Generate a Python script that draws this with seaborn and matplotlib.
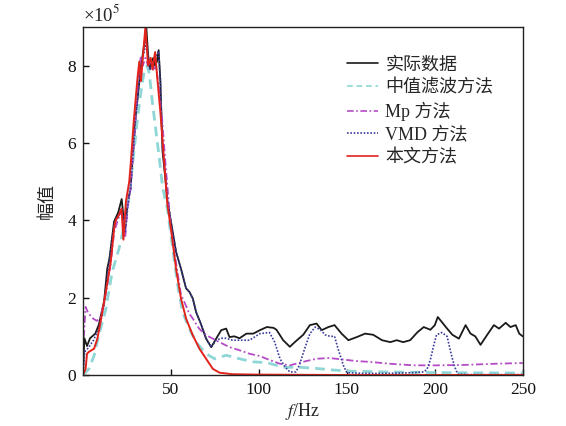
import matplotlib
matplotlib.use("Agg")
import matplotlib.pyplot as plt
import seaborn as sns
import pandas as pd

# ---------------- data (amplitude in units of 1e5) ----------------
labels = ["实际数据", "中值滤波方法", "Mp 方法", "VMD 方法", "本文方法"]

f_actual = [0, 0.8, 2.3, 4, 7, 9, 12, 13.8, 15, 17.7, 20, 22, 23, 24, 25.5, 27, 30, 33, 35, 36,
            37, 38, 39, 40, 41, 42, 43, 44, 45.2, 47, 48, 50, 52.9, 55.7, 58.6, 60.5, 62.4, 64.3, 67.2, 70,
            72.9, 75.7, 78.6, 81.4, 83.3, 86, 89, 92.9, 96.8, 100.6, 104.5, 108.3, 110, 113.8, 117.6, 120.4, 125.2, 129, 132.8, 135.7,
            139.5, 143, 147, 150.9, 155.6, 160.4, 165, 170, 174.7, 178.4, 182, 186, 190, 193.7, 197.5, 200, 201.7, 204, 207, 210,
            213.7, 217.5, 220.3, 223, 226, 229.8, 233.6, 236.5, 240.3, 243, 246, 248, 250]
v_actual = [0, 0.95, 0.75, 0.95, 1.07, 1.3, 1.9, 2.75, 3.0, 3.97, 4.2, 4.55, 4.1, 3.8, 4.5, 4.8, 6.7, 8.0, 8.6, 9.0,
            8.3, 7.9, 8.1, 8.2, 8.0, 8.1, 8.4, 7.6, 5.8, 5.0, 4.5, 3.97, 3.19, 2.75, 2.24, 2.15, 1.98, 1.63, 1.3, 0.94,
            0.72, 0.94, 1.16, 1.2, 0.98, 1.0, 0.95, 1.07, 1.07, 1.16, 1.24, 1.22, 1.17, 0.9, 0.73, 0.85, 1.04, 1.29, 1.33, 1.16,
            1.24, 1.29, 1.07, 0.9, 0.98, 1.07, 1.04, 0.9, 0.85, 0.9, 0.85, 0.9, 1.1, 1.24, 1.17, 1.29, 1.5, 1.37, 1.2, 1.04,
            0.94, 1.29, 1.07, 1.0, 0.78, 1.04, 1.29, 1.2, 1.35, 1.24, 1.29, 1.07, 1.0]

f_median = [0, 3.4, 6.3, 9, 13, 16.6, 20.5, 24.4, 26.3, 29, 31, 33, 34.8, 36.5, 37.7, 39.6, 41.5, 43.4, 45.3, 48,
            51, 53.8, 56.6, 60.4, 64.3, 70, 74.8, 81.4, 89, 96.8, 104.5, 114, 123, 132.8, 142, 152, 171, 207, 250]
v_median = [0, 0.16, 0.5, 1.03, 1.7, 2.67, 3.27, 4.05, 4.66, 5.78, 6.64, 7.33, 7.85, 8.0, 7.8, 7.0, 6.3, 5.6, 4.83, 4.3,
            3.27, 2.33, 1.63, 1.2, 0.85, 0.55, 0.42, 0.51, 0.42, 0.34, 0.32, 0.2, 0.2, 0.17, 0.13, 0.1, 0.08, 0.06, 0.05]

f_mp = [0, 0.5, 1.5, 3, 6, 8, 10, 13, 15.8, 17.7, 20.5, 22, 23, 24, 25.5, 27, 30, 32, 33, 34,
        35.5, 37, 38.6, 40, 41.5, 43, 45, 47, 50, 52.9, 55.7, 57.5, 60.4, 62.4, 66, 70, 73.8, 77.6, 83.3, 89,
        94.7, 100.5, 106, 112, 117.6, 125, 132.8, 140, 148, 155.6, 163, 174.7, 188, 201, 216.5, 233.6, 250]
v_mp = [1.0, 1.0, 1.76, 1.6, 1.45, 1.4, 1.5, 2.1, 2.9, 3.7, 4.1, 4.2, 3.9, 3.55, 4.4, 4.8, 6.7, 8.0, 8.24, 8.0,
        8.2, 8.0, 8.1, 7.9, 8.0, 7.5, 6.6, 5.4, 3.8, 2.9, 2.07, 1.9, 1.59, 1.46, 1.2, 1.03, 0.94, 0.85, 0.72, 0.64,
        0.55, 0.49, 0.39, 0.29, 0.25, 0.34, 0.42, 0.44, 0.4, 0.36, 0.34, 0.29, 0.25, 0.25, 0.26, 0.29, 0.31]

f_vmd = [0, 1, 3, 6, 9, 12, 14, 17.7, 20, 22, 23, 24, 25.5, 27, 30, 33, 35, 36, 37, 38,
         40, 42, 43, 44, 45.2, 47, 48, 50, 52.9, 55.7, 58.6, 60.5, 62.4, 64.3, 67.2, 70, 72.9, 75.7, 78.6, 81.4,
         85, 89, 94.7, 100.5, 106, 109, 112, 115, 117.6, 121, 123, 126, 129, 132, 135, 137.6, 140.4, 143, 145, 148,
         150, 160, 170, 180, 188, 193.7, 195.6, 197.5, 199.4, 201, 204, 207, 209, 211, 213, 220, 235, 250]
v_vmd = [0, 0.6, 0.7, 0.9, 1.2, 1.8, 2.6, 3.9, 4.1, 4.3, 4.0, 3.7, 4.4, 4.8, 6.7, 8.0, 8.4, 8.6, 8.2, 7.9,
         8.1, 8.3, 8.37, 7.6, 5.9, 5.1, 4.5, 3.97, 3.19, 2.75, 2.24, 2.15, 1.98, 1.63, 1.3, 0.94, 0.72, 0.9, 0.95, 0.95,
         0.9, 0.9, 0.9, 1.07, 1.1, 0.85, 0.42, 0.2, 0.08, 0.08, 0.25, 0.68, 1.07, 1.24, 1.17, 1.04, 1.0, 1.0, 0.68, 0.25,
         0.06, 0.04, 0.04, 0.05, 0.06, 0.08, 0.15, 0.4, 0.77, 1.04, 1.1, 1.0, 0.6, 0.25, 0.02, 0.01, 0.01, 0.01]

f_ours = [0, 1.5, 2.3, 3.4, 6.3, 8.2, 10, 13, 15.8, 17.7, 18.6, 20.5, 21.9, 23, 24.4, 26.3, 27.2, 29, 31, 32,
          33, 34, 35.5, 37, 38.5, 39.5, 41, 42, 44, 46, 48, 50, 52.9, 55.7, 58.6, 62.4, 66.2, 70, 73.8, 77.6,
          85, 100, 150, 200, 250]
v_ours = [0, 0.16, 0.55, 0.6, 0.68, 0.94, 1.37, 2.15, 2.93, 3.79, 4.0, 4.14, 4.3, 3.5, 4.48, 5.0, 5.5, 6.64, 7.68, 8.1,
          7.6, 8.2, 9.0, 8.0, 8.2, 7.9, 8.35, 7.8, 6.8, 5.6, 4.4, 3.79, 2.75, 1.98, 1.46, 1.03, 0.68, 0.42, 0.16, 0.06,
          0.02, 0.01, 0.0, 0.0, 0.0]

x_ticks = [50, 100, 150, 200, 250]
y_ticks = [0, 2, 4, 6, 8]

# ---------------- style ----------------
sns.set_style("white")
plt.rcParams["font.family"] = ["Liberation Serif", "Noto Sans CJK SC", "DejaVu Sans"]
plt.rcParams["mathtext.fontset"] = "stix"
plt.rcParams["axes.unicode_minus"] = False

fig = plt.figure(figsize=(5.66, 4.26), dpi=100)
ax = fig.add_axes([0.1466, 0.1197, 0.777, 0.817])

series = [
    (f_actual, v_actual, labels[0], dict(color="#1a1a1a", lw=1.3, ls="-")),
    (f_median, v_median, labels[1], dict(color="#8fd6d6", lw=2.0, dashes=(3.5, 2.2))),
    (f_mp, v_mp, labels[2], dict(color="#b54cc6", lw=1.3, dashes=(4, 1.5, 1, 1.5))),
    (f_vmd, v_vmd, labels[3], dict(color="#3c3c9c", lw=1.2, dashes=(1, 1))),
    (f_ours, v_ours, labels[4], dict(color="#e2231c", lw=1.4, ls="-")),
]
for fx, vy, lab, kw in series:
    assert len(fx) == len(vy), lab
    df = pd.DataFrame({"f": fx, "v": vy})
    sns.lineplot(data=df, x="f", y="v", ax=ax, label=lab, sort=False, estimator=None, **kw)

ax.set_xlim(0, 250)
ax.set_ylim(0, 9)
ax.set_xticks(x_ticks)
ax.set_yticks(y_ticks)
ax.tick_params(direction="in", length=4, width=1, labelsize=12.5, top=False, right=False,
               bottom=True, left=True, colors="#111111", pad=5)
for sp in ax.spines.values():
    sp.set_color("#222222")
    sp.set_linewidth(1.0)

ax.set_xlabel("$f$/Hz", fontsize=13, labelpad=2)
ax.set_ylabel("幅值", fontsize=13, labelpad=8)
ax.text(0.0, 1.006, "×10$^5$", transform=ax.transAxes, ha="left", va="bottom", fontsize=13.5)

leg = ax.legend(loc="upper left", bbox_to_anchor=(0.585, 0.935), frameon=False, fontsize=13,
                handlelength=1.7, handletextpad=0.4, labelspacing=0.3, borderaxespad=0)
for h in leg.get_lines():
    h.set_linewidth(1.2)

fig.savefig("out.png", dpi=100, facecolor="white")
